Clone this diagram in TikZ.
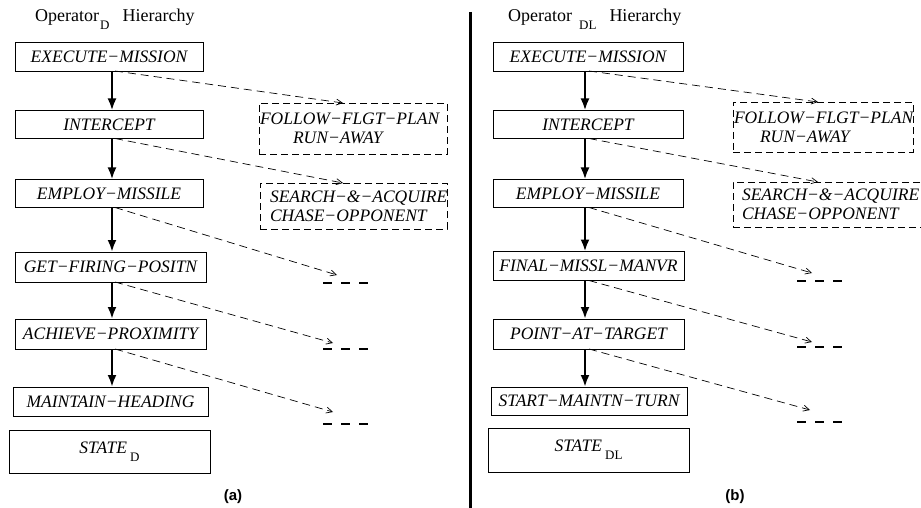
\documentclass[tikz,border=0pt]{standalone}
\usepackage{fontspec}
\setmainfont{Liberation Serif}
\newfontfamily\labfont{Liberation Sans}
\usetikzlibrary{arrows.meta}
\begin{document}
\begin{tikzpicture}[x=1pt,y=-1pt,
  box/.style={draw, line width=0.9pt, inner sep=0pt, outer sep=0pt,
    font=\fontsize{17.5}{20}\selectfont\itshape},
  dbox/.style={draw, line width=0.8pt, dash pattern=on 7pt off 4pt,
    inner xsep=1pt, inner ysep=0pt, outer sep=0pt, align=left,
    font=\fontsize{17.5}{19}\selectfont\itshape},
  down/.style={line width=2.8pt, -{Latex[length=12pt,width=9pt]}},
  side/.style={line width=0.7pt, dash pattern=on 8pt off 5pt,
    -{Straight Barb[length=6pt,width=6pt]}},
  more/.style={line width=2.4pt, dash pattern=on 9pt off 9pt},
  title/.style={font=\fontsize{18}{20}\selectfont, inner sep=0pt, anchor=base west},
  lab/.style={font=\labfont\bfseries\fontsize{15}{15}\selectfont, inner sep=0pt}]
\newcommand{\sbs}[1]{\raisebox{-8pt}{\upshape\fontsize{13}{13}\selectfont #1}}
\fill[white] (0,0) rectangle (921,508);
\useasboundingbox (0,0) rectangle (921,508);

% ---------- left panel ----------
\node[title] (tl) at (35,22) {Operator\hspace{1pt}\sbs{D}\hspace{13pt}Hierarchy};
\node[box, minimum width=188pt, minimum height=29pt] (L1) at (109,56.5) {EXECUTE−MISSION};
\node[box, minimum width=188pt, minimum height=28pt] (L2) at (109,124.5) {INTERCEPT};
\node[box, minimum width=188pt, minimum height=28pt] (L3) at (109,193.5) {EMPLOY−MISSILE};
\node[box, minimum width=191pt, minimum height=30pt] (L4) at (110.5,267) {GET−FIRING−POSITN};
\node[box, minimum width=191pt, minimum height=30pt] (L5) at (110.5,334) {ACHIEVE−PROXIMITY};
\node[box, minimum width=195pt, minimum height=29pt] (L6) at (110.5,401.5) {MAINTAIN−HEADING};
\node[box, minimum width=201pt, minimum height=43pt] (L7) at (109.5,451.5) {STATE\hspace{3pt}\sbs{D}};

\node[dbox, text width=186pt, minimum height=51pt] (LD1) at (353,128.5)
  {FOLLOW−FLGT−PLAN\\\hspace*{33pt}RUN−AWAY};
\node[dbox, text width=185pt, minimum height=46pt] (LD2) at (353.5,206)
  {\hspace*{9pt}SEARCH−\&−ACQUIRE\\\hspace*{9pt}CHASE−OPPONENT};

\coordinate (lax) at (112,0);
\coordinate (lsx) at (115,0);
\coordinate (lex) at (343,0);
\coordinate (le3) at (337,275);
\coordinate (le4) at (333,343);
\coordinate (le5) at (333,412);

\draw[down] (L1.south -| lax) -- (L2.north -| lax);
\draw[down] (L2.south -| lax) -- (L3.north -| lax);
\draw[down] (L3.south -| lax) -- (L4.north -| lax);
\draw[down] (L4.south -| lax) -- (L5.north -| lax);
\draw[down] (L5.south -| lax) -- (L6.north -| lax);

\draw[side] (L1.south -| lsx) -- (LD1.north -| lex);
\draw[side] (L2.south -| lsx) -- (LD2.north -| lex);
\draw[side] (L3.south -| lsx) -- (le3);
\draw[side] (L4.south -| lsx) -- (le4);
\draw[side] (L5.south -| lsx) -- (le5);

\draw[more] (323,283) -- (370,283);
\draw[more] (323,349) -- (370,349);
\draw[more] (323,424) -- (370,424);

\node[lab] (la) at (233,497) {(a)};

% ---------- separator ----------
\draw[line width=3pt] (470,12) -- (470,508);

% ---------- right panel ----------
\node[title] (tr) at (508,22) {Operator\hspace{7pt}\sbs{DL}\hspace{13pt}Hierarchy};
\node[box, minimum width=190pt, minimum height=29pt] (R1) at (588,56.5) {EXECUTE−MISSION};
\node[box, minimum width=190pt, minimum height=28pt] (R2) at (588,124.5) {INTERCEPT};
\node[box, minimum width=190pt, minimum height=28pt] (R3) at (588,193.5) {EMPLOY−MISSILE};
\node[box, minimum width=191pt, minimum height=29pt] (R4) at (588.5,266) {FINAL−MISSL−MANVR};
\node[box, minimum width=191pt, minimum height=30pt] (R5) at (588.5,334) {POINT−AT−TARGET};
\node[box, minimum width=196pt, minimum height=28pt] (R6) at (589,401) {START−MAINTN−TURN};
\node[box, minimum width=201pt, minimum height=44pt] (R7) at (588.5,450) {STATE\hspace{3pt}\sbs{DL}};

\node[dbox, text width=178pt, minimum height=50pt] (RD1) at (823,127)
  {FOLLOW−FLGT−PLAN\\\hspace*{26pt}RUN−AWAY};
\node[dbox, text width=190pt, minimum height=45pt] (RD2) at (829,204.5)
  {\hspace*{8pt}SEARCH−\&−ACQUIRE\\\hspace*{8pt}CHASE−OPPONENT};

\coordinate (rax) at (585,0);
\coordinate (rsx) at (589,0);
\coordinate (rex) at (818,0);
\coordinate (re3) at (812,273);
\coordinate (re4) at (812,342);
\coordinate (re5) at (810,410);

\draw[down] (R1.south -| rax) -- (R2.north -| rax);
\draw[down] (R2.south -| rax) -- (R3.north -| rax);
\draw[down] (R3.south -| rax) -- (R4.north -| rax);
\draw[down] (R4.south -| rax) -- (R5.north -| rax);
\draw[down] (R5.south -| rax) -- (R6.north -| rax);

\draw[side] (R1.south -| rsx) -- (RD1.north -| rex);
\draw[side] (R2.south -| rsx) -- (RD2.north -| rex);
\draw[side] (R3.south -| rsx) -- (re3);
\draw[side] (R4.south -| rsx) -- (re4);
\draw[side] (R5.south -| rsx) -- (re5);

\draw[more] (797,281) -- (844,281);
\draw[more] (797,347) -- (844,347);
\draw[more] (797,422) -- (844,422);

\node[lab] (lb) at (735,497) {(b)};
\end{tikzpicture}
\end{document}
